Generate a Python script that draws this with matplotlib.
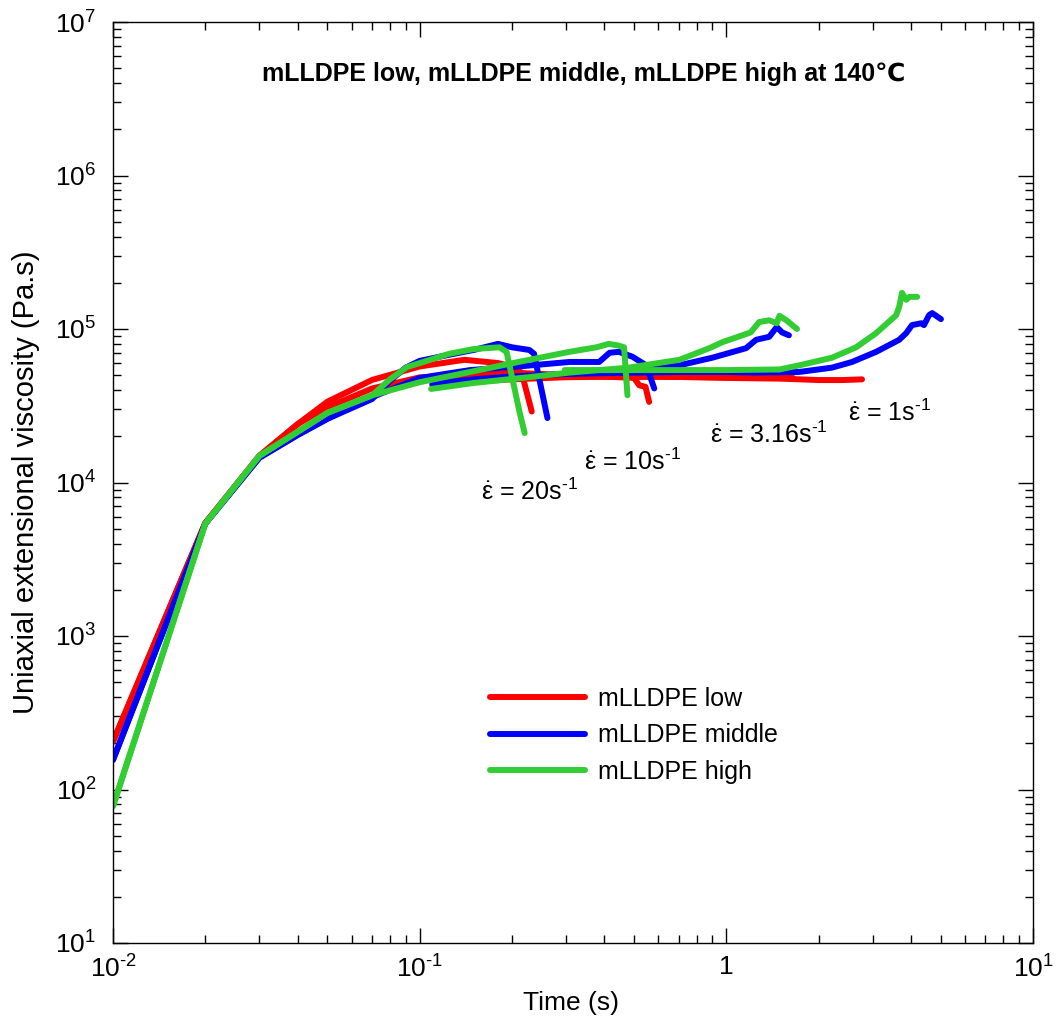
import math
import matplotlib
matplotlib.use("Agg")
import matplotlib.pyplot as plt
from matplotlib.ticker import LogLocator, FuncFormatter, NullFormatter

plt.rcParams['font.family'] = ['Liberation Sans', 'DejaVu Sans']
plt.rcParams['mathtext.fontset'] = 'custom'
plt.rcParams['mathtext.rm'] = 'Liberation Sans'
plt.rcParams['mathtext.it'] = 'Liberation Sans:italic'
plt.rcParams['mathtext.bf'] = 'Liberation Sans:bold'

# ---------------- data ----------------
materials = ["mLLDPE low", "mLLDPE middle", "mLLDPE high"]
colors = ["#ff0000", "#0000ff", "#32cd32"]
rate_labels = ["20", "10", "3.16", "1"]

# mLLDPE low
low_20_t = [0.01, 0.02, 0.03, 0.04, 0.05, 0.07, 0.10, 0.14, 0.18, 0.20, 0.215, 0.232]
low_20_v = [205, 5450, 14900, 24000, 33600, 46600, 57000, 63000, 60000, 57000, 52000, 29000]
low_10_t = [0.01, 0.02, 0.03, 0.04, 0.05, 0.06, 0.07, 0.10, 0.15, 0.20, 0.30, 0.40, 0.50, 0.52, 0.545, 0.56]
low_10_v = [205, 5450, 14900, 24000, 31000, 36000, 41000, 48400, 50000, 52000, 50000, 49000, 48000, 43000, 42000, 33500]
low_316_t = [0.11, 0.15, 0.20, 0.30, 0.50, 0.70, 1.0, 1.3, 1.65]
low_316_v = [43000, 45500, 47000, 48500, 49000, 48700, 48500, 48200, 48000]
low_1_t = [0.30, 0.50, 0.70, 1.0, 1.5, 2.0, 2.4, 2.77]
low_1_v = [49500, 48800, 48700, 48000, 47500, 46500, 46500, 47000]

# mLLDPE middle
mid_20_t = [0.01, 0.02, 0.03, 0.04, 0.05, 0.07, 0.08, 0.09, 0.10, 0.125, 0.15, 0.18, 0.20, 0.228, 0.236, 0.261]
mid_20_v = [156, 5400, 14500, 20400, 26000, 35000, 46000, 56000, 62000, 68000, 73000, 80000, 76000, 73000, 69000, 26300]
mid_10_t = [0.01, 0.02, 0.03, 0.04, 0.05, 0.07, 0.10, 0.146, 0.21, 0.308, 0.385, 0.416, 0.446, 0.494, 0.548, 0.582]
mid_10_v = [156, 5400, 14500, 20400, 26000, 36000, 48000, 54000, 57000, 61000, 61000, 70000, 71000, 66000, 58000, 41000]
mid_316_t = [0.11, 0.15, 0.20, 0.30, 0.45, 0.60, 0.703, 0.90, 1.16, 1.25, 1.38, 1.46, 1.52, 1.60]
mid_316_v = [44000, 47000, 49000, 51000, 53500, 56000, 58000, 65000, 75000, 85000, 89000, 103000, 95000, 91000]
mid_1_t = [0.30, 0.50, 0.703, 1.0, 1.23, 1.73, 2.21, 2.57, 3.08, 3.66, 3.86, 4.03, 4.32, 4.41, 4.58, 4.69, 5.01]
mid_1_v = [51000, 52000, 52500, 52500, 52000, 52500, 56000, 61000, 71000, 85000, 94000, 106000, 109000, 106000, 123000, 127000, 116000]

# mLLDPE high
high_20_t = [0.01, 0.02, 0.03, 0.04, 0.05, 0.07, 0.08, 0.091, 0.125, 0.15, 0.182, 0.192, 0.201, 0.212, 0.22]
high_20_v = [78, 5400, 14900, 21400, 28400, 37000, 47000, 56500, 69000, 74000, 76000, 71000, 46600, 28400, 21000]
high_10_t = [0.01, 0.02, 0.03, 0.04, 0.05, 0.07, 0.10, 0.146, 0.21, 0.308, 0.377, 0.414, 0.445, 0.464, 0.476]
high_10_v = [78, 5400, 14900, 21400, 28400, 37000, 45000, 52500, 61000, 71000, 76000, 80000, 78000, 76000, 37000]
high_316_t = [0.109, 0.15, 0.228, 0.308, 0.48, 0.703, 0.88, 0.97, 1.2, 1.28, 1.38, 1.46, 1.49, 1.57, 1.70]
high_316_v = [40700, 44500, 48600, 52000, 56000, 63000, 75000, 82000, 95000, 111000, 114000, 109000, 122000, 114000, 100000]
high_1_t = [0.297, 0.50, 0.703, 1.0, 1.49, 1.73, 2.21, 2.65, 3.08, 3.58, 3.66, 3.74, 3.86, 3.96, 4.19]
high_1_v = [54000, 54000, 54000, 54000, 54500, 58000, 65000, 76000, 94000, 123000, 139000, 172000, 155000, 162000, 162000]

curves = {
    "mLLDPE low": [(low_20_t, low_20_v), (low_10_t, low_10_v), (low_316_t, low_316_v), (low_1_t, low_1_v)],
    "mLLDPE middle": [(mid_20_t, mid_20_v), (mid_10_t, mid_10_v), (mid_316_t, mid_316_v), (mid_1_t, mid_1_v)],
    "mLLDPE high": [(high_20_t, high_20_v), (high_10_t, high_10_v), (high_316_t, high_316_v), (high_1_t, high_1_v)],
}

# ---------------- figure ----------------
fig = plt.figure(figsize=(10.60, 10.23), dpi=100)
ax = fig.add_axes([113 / 1060, 1 - 943 / 1023, 920 / 1060, 921 / 1023])

lw = 4.3
for name, col in zip(materials, colors):
    for i, (t, v) in enumerate(curves[name]):
        ax.plot(t, v, color=col, lw=lw, solid_capstyle='round', solid_joinstyle='round',
                label=name if i == 0 else None)

ax.set_xscale('log')
ax.set_yscale('log')
ax.set_xlim(1e-2, 1e1)
ax.set_ylim(1e1, 1e7)


def sup_label(e):
    if e < 0:
        return r'$\mathregular{10^{\text{-}%d}}$' % (-e)
    return r'$\mathregular{10^{%d}}$' % e


def xfmt(val, pos):
    e = int(round(math.log10(val)))
    if e == 0:
        return '1'
    return sup_label(e)


def yfmt(val, pos):
    e = int(round(math.log10(val)))
    return sup_label(e)


ax.xaxis.set_major_locator(LogLocator(base=10, numticks=10))
ax.yaxis.set_major_locator(LogLocator(base=10, numticks=10))
ax.xaxis.set_minor_locator(LogLocator(base=10, subs=range(2, 10), numticks=20))
ax.yaxis.set_minor_locator(LogLocator(base=10, subs=range(2, 10), numticks=20))
ax.xaxis.set_major_formatter(FuncFormatter(xfmt))
ax.yaxis.set_major_formatter(FuncFormatter(yfmt))
ax.xaxis.set_minor_formatter(NullFormatter())
ax.yaxis.set_minor_formatter(NullFormatter())

ax.tick_params(which='both', direction='in', top=True, right=True, width=1.0, color='black')
ax.tick_params(which='major', length=11, labelsize=19)
ax.tick_params(which='minor', length=6)
ax.tick_params(axis='x', which='major', pad=9)
ax.tick_params(axis='y', which='major', pad=12)
for s in ax.spines.values():
    s.set_linewidth(1.0)

ax.set_xlabel('Time (s)', fontsize=19)
ax.set_ylabel('Uniaxial extensional viscosity (Pa.s)', fontsize=21)
ax.xaxis.set_label_coords((571 - 113) / 920, (943 - 1003) / 921)
ax.yaxis.set_label_coords((26 - 113) / 920, (943 - 482) / 921)
ax.xaxis.label.set_va('center')
ax.yaxis.label.set_va('center')

fig.text(584 / 1060, 1 - 74 / 1023, 'mLLDPE low, mLLDPE middle, mLLDPE high at 140\u2103',
         ha='center', va='center', fontsize=18, fontweight='bold',
         family=['Liberation Sans', 'DejaVu Sans'])

# rate annotations
ann_pos = [(0.159, 7.7e3), (0.344, 1.2e4), (0.887, 1.8e4), (2.50, 2.5e4)]
for lab, (xp, yp) in zip(rate_labels, ann_pos):
    ax.text(xp, yp, r'$\dot{\mathrm{\varepsilon}}$ = ' + lab + r's$^{\mathregular{\text{-}1}}$',
            fontsize=18, ha='left', va='baseline')

leg = ax.legend(loc='upper left', bbox_to_anchor=(490 / 1060, 1 - 687 / 1023),
                bbox_transform=fig.transFigure, frameon=False, fontsize=18,
                handlelength=3.8, handletextpad=0.5, labelspacing=0.5,
                borderpad=0, borderaxespad=0)

fig.savefig('out.png', dpi=100)
